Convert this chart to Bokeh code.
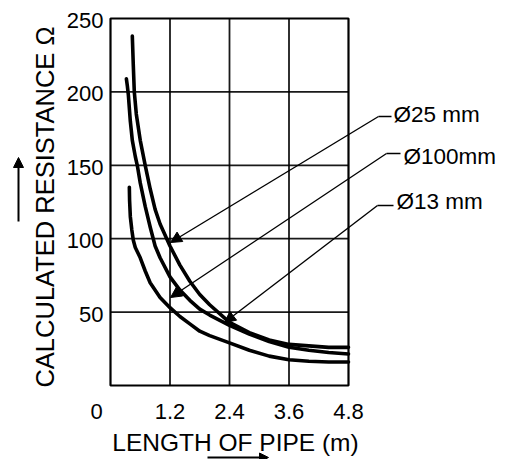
import math
from bokeh.plotting import figure
from bokeh.models import Range1d, Arrow, NormalHead
from bokeh.core.properties import value
from bokeh.embed import file_html
from bokeh.resources import INLINE

# ---- data ----
len_a = [0.44, 0.46, 0.48, 0.52, 0.6, 0.7, 0.8, 0.9, 1.0, 1.2, 1.4, 1.6, 1.8, 2.0, 2.4, 2.8, 3.2, 3.6, 4.0, 4.4, 4.8]
res_a = [238, 218, 200, 185, 167, 150, 134, 120, 110, 95, 82, 71, 62, 55, 43, 36, 31, 28, 27, 26, 26]

len_b = [0.32, 0.34, 0.36, 0.4, 0.44, 0.5, 0.54, 0.6, 0.7, 0.8, 0.9, 1.0, 1.2, 1.4, 1.6, 1.8, 2.0, 2.4, 2.8, 3.2, 3.6, 4.0, 4.4, 4.8]
res_b = [209, 204, 198, 180, 167, 156, 150, 138, 122, 108, 95, 87, 74, 65, 58, 52, 48, 41, 35, 30, 26, 24, 22.5, 21.5]

len_c = [0.38, 0.385, 0.40, 0.43, 0.46, 0.5, 0.6, 0.7, 0.8, 1.0, 1.2, 1.4, 1.6, 1.8, 2.0, 2.4, 2.8, 3.2, 3.6, 4.0, 4.4, 4.8]
res_c = [135, 126, 115, 106, 99, 94, 87, 78, 70, 60, 53, 47, 42, 37, 34, 29, 24, 20, 17.5, 16.5, 16, 16]

x_ticks = [0, 1.2, 2.4, 3.6, 4.8]
x_tick_labels = ["0", "1.2", "2.4", "3.6", "4.8"]
y_ticks = [50, 100, 150, 200, 250]
y_tick_labels = ["50", "100", "150", "200", "250"]
pipe_labels = ["Ø25 mm", "Ø100mm", "Ø13 mm"]
x_title = "LENGTH OF PIPE (m)"
y_title = "CALCULATED RESISTANCE  Ω"

FONT = value("Liberation Sans")

W, H = 507, 459
# plot area: x 0..4.8 spans pixels 110..348, y 0..250 spans pixels 385..18
PX_X = 238 / 4.8
PX_Y = 367 / 250


def X(px):
    return (px - 110) / PX_X


def Y(py):
    return (385 - py) / PX_Y


p = figure(width=W, height=H, output_backend="svg", toolbar_location=None,
           x_range=Range1d(X(0), X(W)), y_range=Range1d(Y(H), Y(0)),
           min_border=0)
p.xaxis.visible = False
p.yaxis.visible = False
p.grid.visible = False
p.outline_line_color = None
p.background_fill_color = "white"
p.border_fill_color = "white"

x_max, y_max = x_ticks[-1], y_ticks[-1]

# grid
p.segment(x0=x_ticks[1:-1], y0=[0] * 3, x1=x_ticks[1:-1], y1=[y_max] * 3,
          line_color="black", line_width=1.8, line_alpha=0.9)
p.segment(x0=[0] * 4, y0=y_ticks[:-1], x1=[x_max] * 4, y1=y_ticks[:-1],
          line_color="black", line_width=1.8, line_alpha=0.9)
# frame
p.quad(left=[0], right=[x_max], bottom=[0], top=[y_max], fill_color=None,
       line_color="black", line_width=2.2)

# curves
for xs, ys in ((len_a, res_a), (len_b, res_b), (len_c, res_c)):
    p.line(xs, ys, line_color="black", line_width=3.6, line_join="round", line_cap="round")

# tick labels
p.text(x=x_ticks[1:], y=[0] * 4, text=x_tick_labels[1:], y_offset=26, text_align="center",
       text_baseline="middle", text_font=FONT, text_font_size=value("22px"), text_color="black")
p.text(x=[0], y=[0], text=x_tick_labels[:1], x_offset=-14, y_offset=26, text_align="center",
       text_baseline="middle", text_font=FONT, text_font_size=value("22px"), text_color="black")
p.text(x=[0] * 5, y=y_ticks, text=y_tick_labels, x_offset=-7, y_offset=2, text_align="right",
       text_baseline="middle", text_font=FONT, text_font_size=value("22px"), text_color="black")

# axis titles
p.text(x=[X(44)], y=[Y(203)], text=[y_title], angle=math.pi / 2, text_align="center",
       text_baseline="middle", text_font=FONT, text_font_size=value("25.5px"), text_color="black")
p.text(x=[X(235)], y=[Y(442)], text=[x_title], text_align="center",
       text_baseline="middle", text_font=FONT, text_font_size=value("24.5px"), text_color="black")

# direction arrows
p.add_layout(Arrow(x_start=X(18), y_start=Y(221), x_end=X(18), y_end=Y(157), line_width=2,
                   end=NormalHead(size=10, fill_color="black", line_color="black")))
p.add_layout(Arrow(x_start=X(207), y_start=Y(457), x_end=X(268), y_end=Y(457), line_width=2,
                   end=NormalHead(size=9, fill_color="black", line_color="black")))

# leaders: label start, dash, arrow tip (pixel positions)
text_px = [(393, 114), (403, 156), (396, 201)]
dash_px = [(378, 391, 116), (386, 400, 153), (377, 393, 205)]
tip_px = [(170, 242), (170, 297), (224, 322)]

for t, (tx, ty), (d0, d1, dy), (ax, ay) in zip(pipe_labels, text_px, dash_px, tip_px):
    p.add_layout(Arrow(x_start=X(d0), y_start=Y(dy), x_end=X(d1), y_end=Y(dy),
                       end=None, line_width=1.4))
    p.add_layout(Arrow(x_start=X(d0), y_start=Y(dy), x_end=X(ax), y_end=Y(ay), line_width=1.4,
                       end=NormalHead(size=11, fill_color="black", line_color="black", line_width=1)))
    p.text(x=[X(tx)], y=[Y(ty)], text=[t], text_align="left", text_baseline="middle",
           text_font=FONT, text_font_size=value("22.5px"), text_color="black")

open("out.html", "w").write(file_html(p, INLINE))
